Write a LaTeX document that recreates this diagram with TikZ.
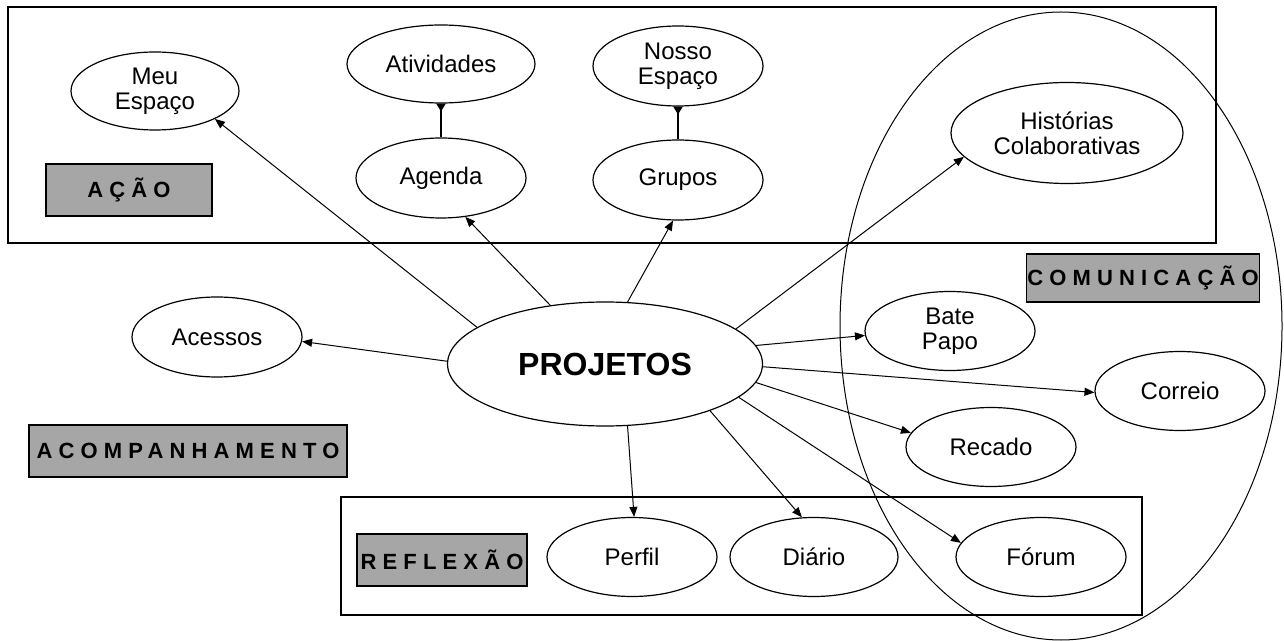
\documentclass[tikz,border=0pt]{standalone}
\usepackage{fontspec}
\setmainfont{Liberation Sans}
\newfontfamily\tagfont[LetterSpace=28]{Liberation Sans}
\usetikzlibrary{shapes.geometric}
\usetikzlibrary{arrows.meta}
\definecolor{tagGray}{RGB}{166,166,166}

\begin{document}
\begin{tikzpicture}
[x=0.5pt, y=-0.5pt,
 item/.style={ellipse, draw, line width=0.6pt, fill=white, inner sep=0pt,
   align=center, font=\fontsize{12}{12.5}\selectfont},
 tagBox/.style={draw, line width=0.7pt, fill=tagGray, inner sep=0pt,
   font=\tagfont\bfseries\fontsize{11}{12}\selectfont},
 region/.style={draw, line width=0.9pt},
 arrowLine/.style={-{Triangle[length=5pt,width=4pt]}, line width=0.5pt},
 linkLine/.style={{Triangle[reversed,length=4pt,width=4.5pt]}-, line width=1.3pt}]
\useasboundingbox (0,0) rectangle (1284,641);
%% regions
\draw[region] (8,7) rectangle (1216,243);
\draw[region] (341,497) rectangle (1142,615);
\draw[line width=0.5pt] (1061,326) ellipse [x radius=221, y radius=314];
%% nodes or vertices
\foreach \nodename/\x/\y/\w/\h/\txt in {
  meu/155/91/168/78/{Meu\\Espaço}, ativ/441/64/188/78/{Atividades},
  agenda/441/178/170/80/{Agenda}, nosso/678/66/170/80/{Nosso\\Espaço},
  grupos/678/180/170/80/{Grupos}, hist/1067/133/232/101/{Histórias\\Colaborativas},
  acessos/217/337/170/80/{Acessos}, bate/950/331/170/79/{Bate\\Papo},
  correio/1180/391/170/79/{Correio}, recado/991/447/170/79/{Recado},
  perfil/632/557/170/79/{Perfil}, diario/814/557/168/79/{Diário},
  forum/1041/557/170/79/{Fórum}}
{
  \node[item, minimum width=\w*0.5pt, minimum height=\h*0.5pt] (\nodename) at (\x,\y) {\txt};
}
\node[item, minimum width=157.5pt, minimum height=62pt,
  font=\bfseries\fontsize{16}{18}\selectfont] (proj) at (605,364) {PROJETOS};
%% labels
\foreach \nodename/\x/\y/\w/\h/\txt in {
  acao/129/190/166/52/{AÇÃO}, acomp/188/451/318/52/{ACOMPANHAMENTO},
  comun/1143/278/233/48/{COMUNICAÇÃO}, reflex/442/560/170/52/{REFLEXÃO}}
{
  \node[tagBox, minimum width=\w*0.5pt, minimum height=\h*0.5pt] (\nodename) at (\x,\y) {\txt};
}
%% edges or lines
\path
\foreach \endnode/\a/\b in {
  meu/164/-25, agenda/133/-58, grupos/70/-97, hist/15.5/193,
  bate/7.5/183, correio/-1/181, recado/-7/170, forum/-14/170,
  diario/-24/107, perfil/-70/87, acessos/179/-3}
{
  (proj.\a) edge[arrowLine] (\endnode.\b)
};
\draw[linkLine] (ativ.south) -- (agenda.north);
\draw[linkLine] (nosso.south) -- (grupos.north);
\end{tikzpicture}
\end{document}
